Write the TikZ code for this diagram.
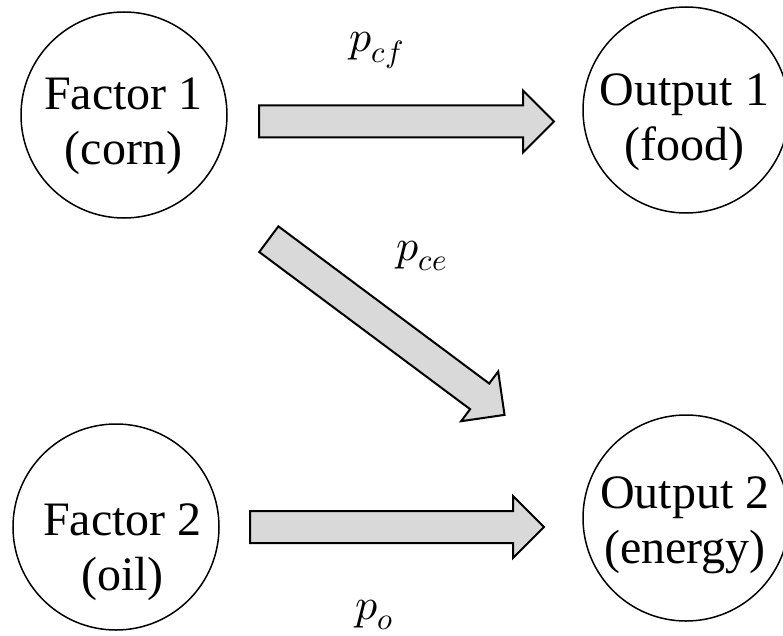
\documentclass[tikz,border=0pt]{standalone}
\usepackage{fontspec}
\usepackage{unicode-math}
\setmainfont{Liberation Serif}
\usetikzlibrary{calc}
\usetikzlibrary{shapes.arrows}
\definecolor{arrowgray}{HTML}{D9D9D9}

\begin{document}
\begin{tikzpicture}[x=1pt,y=-1pt,
  unit/.style={circle,draw,line width=1.5pt,minimum size=206pt,inner sep=0pt},
  caption/.style={align=center,inner sep=0pt,font=\fontsize{48}{55}\selectfont},
  flow/.style={single arrow,draw,line width=2pt,fill=arrowgray,inner sep=15pt,
    single arrow head extend=15pt,minimum height=#1},
  price/.style={anchor=base,inner sep=0pt,font=\fontsize{44}{50}\selectfont}]
\useasboundingbox (0,0) rectangle (783,636);

% factors and outputs
\node[unit] (f1) at (124, 115) {};
\node[unit] (o1) at (686, 110) {};
\node[unit] (f2) at (116, 527) {};
\node[unit] (o2) at (686, 518) {};

\node[caption] (tf1) at (123.5, 126.5) {Factor 1\\(corn)};
\node[caption] (to1) at (684.5, 122.5) {Output 1\\(food)};
\node[caption] (tf2) at (122.5, 552) {Factor 2\\(oil)};
\node[caption] (to2) at (685, 525) {Output 2\\(energy)};

% flows
\node[flow=295pt] (cf) at (398.5, 121.5) {};
\node[flow=294pt,rotate=-36.7] (ce) at (380.25, 322.25) {};
\node[flow=294pt] (oe) at (389, 527) {};

\node[price] (pcf) at (377, 52) {$p_{cf}$};
\node[price] (pce) at (422, 260) {$p_{ce}$};
\node[price] (po) at (374, 619) {$p_{o}$};
\end{tikzpicture}
\end{document}
